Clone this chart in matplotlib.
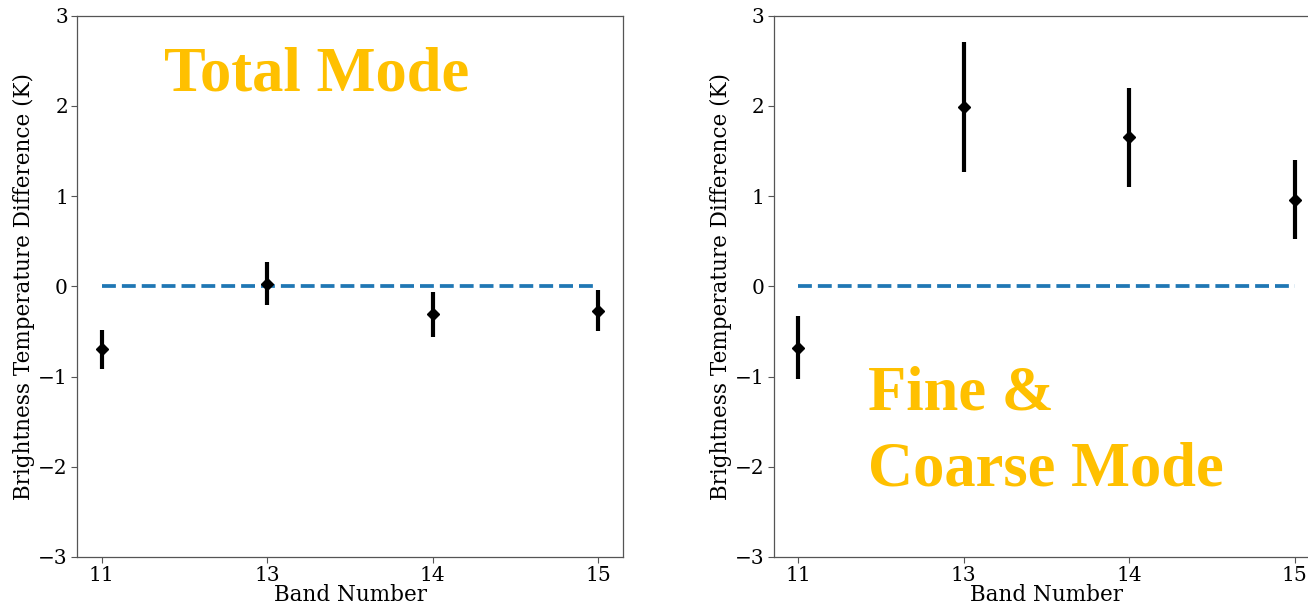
import matplotlib
matplotlib.use("Agg")
import matplotlib.pyplot as plt
import numpy as np

bands = ["11", "13", "14", "15"]
total_vals = [-0.70, 0.03, -0.31, -0.27]
total_err = [0.22, 0.24, 0.25, 0.23]
fc_vals = [-0.68, 1.99, 1.65, 0.96]
fc_err = [0.35, 0.72, 0.55, 0.44]
ref_line = [0, 0]

plt.rcParams['font.family'] = ['DejaVu Serif']
plt.rcParams['mathtext.fontset'] = 'dejavuserif'

fig = plt.figure(figsize=(13.08, 6.07), dpi=100)
W, H = 1308, 607
ax1 = fig.add_axes([77 / W, 50 / H, 546 / W, 541.5 / H])
ax2 = fig.add_axes([773.5 / W, 50 / H, 546 / W, 541.5 / H])

x = np.arange(len(bands))
orange = '#FFC000'

for ax, vals, err in [(ax1, total_vals, total_err), (ax2, fc_vals, fc_err)]:
    ax.plot([x[0], x[-1]], ref_line, '--', color='#1f77b4', lw=2.7, zorder=1)
    ax.errorbar(x, vals, yerr=err, fmt='D', color='k', ms=6.5,
                elinewidth=3, capsize=0, zorder=3)
    ax.set_xlim(-0.15, 3.15)
    ax.set_ylim(-3, 3)
    ax.set_xticks(x)
    ax.set_xticklabels(bands)
    ax.set_yticks(np.arange(-3, 4, 1))
    ax.tick_params(labelsize=14.5, colors='#555555', labelcolor='black',
                   width=0.8, length=4, pad=2.5)
    for s in ax.spines.values():
        s.set_color('#555555')
        s.set_linewidth(0.9)
    ax.set_xlabel("Band Number", fontsize=15.5, labelpad=-1)
    ax.set_ylabel("Brightness Temperature Difference (K)", fontsize=15.5, labelpad=2)

tfont = dict(family='Liberation Serif', weight='bold', color=orange, fontsize=45)
ax1.text(0.374, 2.17, "Total Mode", ha='left', va='baseline', **tfont)
ax2.text(0.42, -1.37, "Fine &", ha='left', va='baseline', **tfont)
ax2.text(0.42, -2.21, "Coarse Mode", ha='left', va='baseline', **tfont)

fig.savefig("out.png", dpi=100)
